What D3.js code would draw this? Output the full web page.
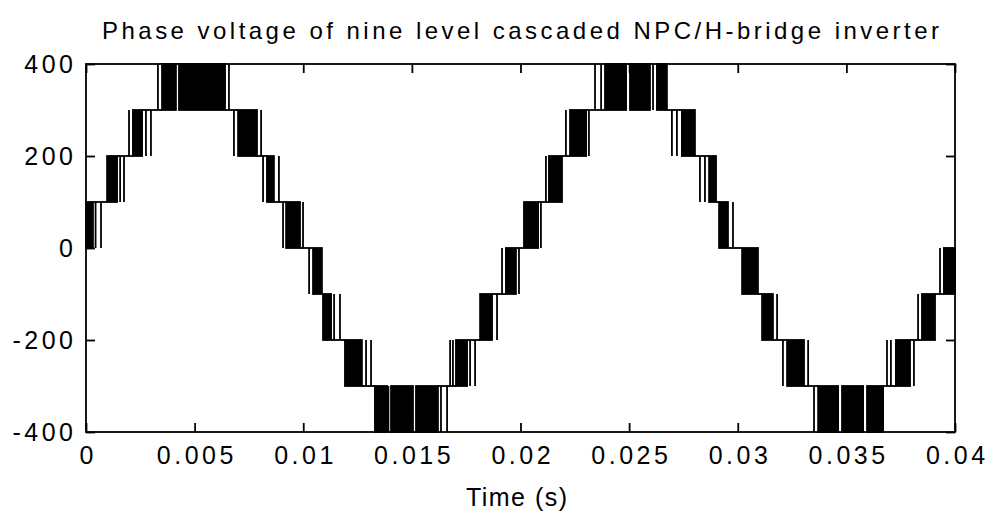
<!DOCTYPE html>
<html><head><meta charset="utf-8">
<script src="https://cdn.jsdelivr.net/npm/d3@7"></script>
<style>
body{margin:0;background:#fff}
svg{display:block}
text{font-family:"Liberation Sans",Arial,sans-serif;fill:#000}
</style>
</head><body>
<svg id="chart" width="994" height="519"></svg>
<script>
// ---------- data ----------
const chartTitle = "Phase voltage of nine level cascaded NPC/H-bridge inverter";
const xLabel = "Time (s)";
const xTicks = [0, 0.005, 0.01, 0.015, 0.02, 0.025, 0.03, 0.035, 0.04];
const xTickLabels = ["0", "0.005", "0.01", "0.015", "0.02", "0.025", "0.03", "0.035", "0.04"];
const yTicks = [400, 200, 0, -200, -400];
const yTickLabels = ["400", "200", "0", "-200", "-400"];
const levelStep = 100;

// lower voltage level of each switching band, in time order
const bandLow = [0, 100, 200, 300, 200, 100, 0, -100, -200, -300, -400, -300, -200, -100,
                 0, 100, 200, 300, 200, 100, 0, -100, -200, -300, -400, -300, -200, -100];

// dense switching regions: [band index, start (ms), end (ms)]
const blocksMs = [
  [0, 0.00, 0.32], [1, 0.97, 1.43], [2, 2.16, 2.58], [3, 3.50, 4.14], [3, 4.28, 6.40],
  [4, 7.00, 7.87], [5, 8.33, 8.65], [6, 9.21, 9.85], [7, 10.45, 10.86], [8, 10.91, 11.28],
  [9, 11.92, 12.70], [10, 13.30, 13.86], [10, 14.04, 15.05], [10, 15.19, 16.20],
  [11, 17.03, 17.54], [12, 18.14, 18.69], [13, 19.33, 19.79], [14, 20.16, 20.81],
  [15, 21.31, 21.91], [16, 22.28, 23.02], [17, 23.89, 24.86], [17, 25.04, 25.96], [17, 26.28, 26.74],
  [18, 27.43, 28.03], [19, 28.68, 29.00], [20, 29.14, 29.55], [21, 30.20, 30.93],
  [22, 31.12, 31.62], [23, 32.27, 33.05], [24, 33.70, 34.62], [24, 34.80, 35.77], [24, 35.95, 36.69],
  [25, 37.28, 37.93], [26, 38.48, 39.08], [27, 39.49, 40.00]
];

// isolated switching pulses: [band index, time (ms)]
const spikesMs = [
  [0, 0.44], [0, 0.69], [1, 1.57], [1, 1.75], [2, 1.98], [2, 2.76], [2, 2.99],
  [3, 3.31], [3, 6.58], [4, 6.81], [4, 8.06], [5, 8.15], [5, 8.88], [6, 9.07], [6, 9.99],
  [7, 10.27], [8, 11.42], [8, 11.69], [9, 12.89], [9, 13.12],
  [10, 13.92], [10, 16.34], [10, 16.62], [11, 16.76], [11, 16.89], [11, 17.68], [11, 17.91],
  [12, 18.92], [13, 19.15], [13, 19.93], [14, 20.94], [15, 21.17], [16, 22.09], [16, 23.15],
  [17, 23.43], [17, 23.71], [17, 26.10], [18, 26.97], [18, 27.20], [19, 28.26], [19, 28.49],
  [20, 29.78], [22, 31.81], [23, 32.08], [23, 33.24], [24, 33.51],
  [25, 36.87], [25, 37.05], [25, 38.11], [26, 38.30], [27, 39.31]
];

// ---------- layout ----------
const plot = {left: 86, top: 64, right: 955, bottom: 432};
const lw = 1.8, tickLen = 9;

const svg = d3.select("#chart");
const x = d3.scaleLinear().domain([0, 0.04]).range([plot.left, plot.right]);
const y = d3.scaleLinear().domain([-400, 400]).range([plot.bottom, plot.top]);
const ms = v => v / 1000;

const sig = svg.append("g").attr("class", "signal");

// horizontal connectors between consecutive bands (at the shared level)
const bandStart = bandLow.map((_, i) => d3.min(blocksMs.filter(b => b[0] === i), b => b[1]));
const bandEnd = bandLow.map((_, i) => d3.max(blocksMs.filter(b => b[0] === i), b => b[2]));
const connectors = [];
for (let k = 0; k < bandLow.length - 1; k++) {
  const a = [bandLow[k], bandLow[k] + levelStep];
  const b = [bandLow[k + 1], bandLow[k + 1] + levelStep];
  const shared = a.find(v => b.includes(v));
  connectors.push({t0: bandEnd[k], t1: bandStart[k + 1], v: shared});
}
sig.selectAll("line.conn").data(connectors).join("line")
  .attr("class", "conn")
  .attr("x1", d => x(ms(d.t0))).attr("x2", d => x(ms(d.t1)))
  .attr("y1", d => y(d.v)).attr("y2", d => y(d.v))
  .attr("stroke", "#000").attr("stroke-width", lw);

// dense switching blocks
sig.selectAll("rect.blk").data(blocksMs).join("rect")
  .attr("class", "blk")
  .attr("x", d => x(ms(d[1])))
  .attr("width", d => x(ms(d[2])) - x(ms(d[1])))
  .attr("y", d => y(bandLow[d[0]] + levelStep))
  .attr("height", d => y(bandLow[d[0]]) - y(bandLow[d[0]] + levelStep))
  .attr("fill", "#000").attr("stroke", "#000").attr("stroke-width", lw);

// isolated pulses
sig.selectAll("line.spk").data(spikesMs).join("line")
  .attr("class", "spk")
  .attr("x1", d => x(ms(d[1]))).attr("x2", d => x(ms(d[1])))
  .attr("y1", d => y(bandLow[d[0]])).attr("y2", d => y(bandLow[d[0]] + levelStep))
  .attr("stroke", "#000").attr("stroke-width", lw);

// ---------- axes (MATLAB-style box, inward ticks) ----------
const fontSize = 25;
function spaced(sel, extra) {
  sel.each(function () {
    const n = this.textContent.length;
    if (n > 1) {
      const w = this.getComputedTextLength();
      d3.select(this).attr("textLength", w + extra * (n - 1)).attr("lengthAdjust", "spacing");
    }
  });
}

const gx = svg.append("g").attr("transform", `translate(0,${plot.bottom})`)
  .call(d3.axisBottom(x).tickValues(xTicks).tickSize(-tickLen).tickPadding(14)
        .tickFormat((d, i) => xTickLabels[i]));
const gxt = svg.append("g").attr("transform", `translate(0,${plot.top})`)
  .call(d3.axisTop(x).tickValues(xTicks).tickSize(-tickLen).tickFormat(""));
const gy = svg.append("g").attr("transform", `translate(${plot.left},0)`)
  .call(d3.axisLeft(y).tickValues(yTicks).tickSize(-tickLen).tickPadding(13)
        .tickFormat((d, i) => yTickLabels[i]));
const gyr = svg.append("g").attr("transform", `translate(${plot.right},0)`)
  .call(d3.axisRight(y).tickValues(yTicks).tickSize(-tickLen).tickFormat(""));

[gx, gxt, gy, gyr].forEach(g => {
  g.select(".domain").remove();
  g.selectAll(".tick line").attr("stroke", "#000").attr("stroke-width", lw);
  g.selectAll("text").attr("font-size", fontSize).attr("font-family", '"Liberation Sans",Arial,sans-serif').attr("fill", "#000");
});
spaced(gx.selectAll("text"), 3.5);
spaced(gy.selectAll("text"), 3.5);

svg.append("rect")
  .attr("x", plot.left).attr("y", plot.top)
  .attr("width", plot.right - plot.left).attr("height", plot.bottom - plot.top)
  .attr("fill", "none").attr("stroke", "#000").attr("stroke-width", lw);

// title and axis label
svg.append("text").attr("x", (plot.left + plot.right) / 2).attr("y", 39)
  .attr("text-anchor", "middle").attr("font-size", 24)
  .attr("textLength", 837).attr("lengthAdjust", "spacing")
  .text(chartTitle);

const xl = svg.append("text").attr("x", (plot.left + plot.right) / 2 - 4).attr("y", 506)
  .attr("text-anchor", "middle").attr("font-size", 25).text(xLabel);
spaced(xl, 1.5);
</script>
</body></html>
